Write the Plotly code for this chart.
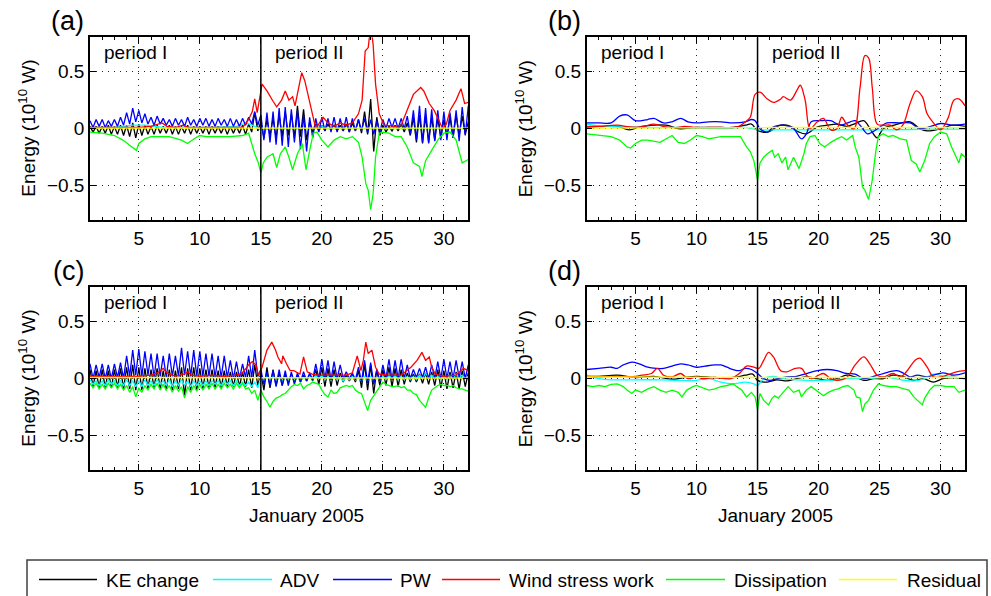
import numpy as np
import plotly.graph_objects as go

# ---------------------------------------------------------------- data
SERIES = ["KE change", "ADV", "PW", "Wind stress work", "Dissipation", "Residual"]
COLORS = ["#000000", "#00ffff", "#0000ff", "#ff0000", "#00ff00", "#ffff00"]
DAY_RANGE = [1, 32]
Y_RANGE = [-0.8, 0.8]
PERIOD_SPLIT = 15
X_TICKS = [5, 10, 15, 20, 25, 30]
Y_TICKS = [-0.5, 0, 0.5]
MINOR_X_TICKS = list(range(1, 33))
STEP = 0.25  # quarter-day sampling for the tidally oscillating series

# ---- panel (a): quarter-day samples, one row per day (days 1..31, then day 32)
a_pw = [0.07, 0.01, 0.08, 0.02, 0.08, 0.01, 0.07, 0.02, 0.08, 0.02, 0.10, 0.03,
        0.14, 0.04, 0.18, 0.06, 0.16, 0.05, 0.13, 0.04, 0.10, 0.03, 0.11, 0.04,
        0.09, 0.03, 0.08, 0.02, 0.09, 0.03, 0.08, 0.02, 0.10, 0.03, 0.08, 0.02,
        0.09, 0.03, 0.09, 0.02, 0.08, 0.02, 0.09, 0.03, 0.08, 0.02, 0.09, 0.02,
        0.08, 0.02, 0.09, 0.03, 0.10, 0.04, 0.15, 0.03, 0.12, -0.10, 0.14, -0.12,
        0.15, -0.14, 0.18, -0.15, 0.19, -0.16, 0.17, -0.12, 0.16, -0.18, 0.12, -0.20,
        0.10, -0.08, 0.09, -0.03, 0.10, -0.02, 0.09, -0.03, 0.10, -0.03, 0.09, -0.02,
        0.10, -0.03, 0.09, -0.02, 0.08, -0.02, 0.09, -0.04, 0.08, -0.05, 0.07, -0.03,
        0.08, 0.00, 0.09, 0.01, 0.09, 0.00, 0.09, 0.00, 0.11, -0.05, 0.16, -0.10,
        0.20, -0.12, 0.18, -0.13, 0.17, -0.11, 0.16, -0.10, 0.15, -0.10, 0.14, -0.08,
        0.16, -0.11, 0.19, -0.06, 0.20]
a_ke = [0.02, -0.03, 0.02, -0.04, 0.02, -0.04, 0.03, -0.05, 0.02, -0.05, 0.03, -0.06,
        0.03, -0.07, 0.05, -0.08, 0.04, -0.06, 0.03, -0.05, 0.02, -0.05, 0.03, -0.04,
        0.02, -0.04, 0.03, -0.05, 0.02, -0.05, 0.02, -0.04, 0.03, -0.05, 0.02, -0.04,
        0.02, -0.04, 0.02, -0.05, 0.02, -0.04, 0.02, -0.04, 0.02, -0.05, 0.02, -0.04,
        0.02, -0.04, 0.03, -0.05, 0.04, -0.03, 0.14, -0.02, 0.06, -0.08, 0.08, -0.06,
        0.09, -0.08, 0.12, -0.07, 0.15, -0.06, 0.13, -0.08, 0.20, -0.07, 0.17, -0.10,
        0.06, -0.03, 0.04, -0.02, 0.03, -0.02, 0.04, -0.01, 0.03, -0.02, 0.03, -0.02,
        0.04, -0.03, 0.05, -0.02, 0.08, -0.04, 0.15, -0.05, 0.26, -0.20, 0.10, -0.06,
        0.03, -0.03, 0.02, -0.02, 0.03, -0.02, 0.04, -0.03, 0.05, -0.06, 0.10, -0.12,
        0.12, -0.13, 0.11, -0.12, 0.10, -0.10, 0.09, -0.08, 0.08, -0.07, 0.10, -0.08,
        0.12, -0.06, 0.11, -0.05, 0.06]
a_adv_t = [1, 3, 4.5, 5.5, 7, 9, 11, 13, 13.8, 14.5, 15, 17, 19, 19.8, 20.5, 23, 25, 28, 30, 32]
a_adv = [0.01, 0.01, 0.03, 0.03, 0.01, 0.01, 0.01, 0.02, 0.05, 0.02,
         -0.01, 0.0, 0.0, 0.03, 0.0, 0.0, 0.0, 0.0, 0.0, 0.0]
a_wsw_t = [1, 3, 5, 6, 6.5, 6.9, 7.3, 8, 8.6, 9.1, 10, 12, 13.5, 14, 14.3, 14.5, 14.7,
           15.1, 15.5, 16, 16.3, 16.7, 17, 17.3, 17.6, 17.8, 18.35, 18.6, 18.9, 19.2,
           19.5, 20.1, 20.5, 21, 21.5, 22, 22.5, 23, 23.3, 23.55, 23.8, 24.0, 24.2,
           24.4, 24.7, 25.1, 26, 26.5, 27, 27.5, 28.1, 28.35, 28.8, 29.2, 29.6, 29.9,
           30.2, 30.5, 31, 31.4, 31.7, 32]
a_wsw = [0.01, 0.01, 0.01, 0.02, 0.04, 0.05, 0.02, 0.01, 0.03, 0.01, 0.01, 0.01, 0.01,
         0.08, 0.15, 0.26, 0.14, 0.39, 0.33, 0.24, 0.19, 0.25, 0.33, 0.25, 0.28, 0.2,
         0.49, 0.42, 0.28, 0.13, 0.0, 0.1, 0.05, 0.02, 0.05, 0.03, 0.05, 0.13, 0.25,
         0.68, 0.71, 0.9, 0.74, 0.39, 0.13, 0.03, 0.02, 0.03, 0.16, 0.3, 0.36, 0.33,
         0.22, 0.16, 0.07, 0.0, 0.04, 0.16, 0.25, 0.35, 0.22, 0.23]
a_dis_t = [1, 2, 3, 3.7, 4.3, 4.8, 5.0, 5.5, 6, 7, 7.5, 8.5, 9, 9.5, 10, 10.5, 11.5,
           12.5, 13.5, 14, 14.5, 14.8, 15.0, 15.2, 15.5, 16, 16.3, 16.6, 17, 17.3, 17.6,
           18, 18.4, 18.7, 19, 19.3, 19.6, 20, 20.5, 21, 21.5, 22, 22.5, 23, 23.3, 23.6,
           23.8, 24.0, 24.2, 24.4, 24.7, 25, 25.5, 26, 26.5, 27, 27.5, 28, 28.2, 28.5,
           29, 29.5, 30, 30.5, 31, 31.5, 32]
a_dis = [-0.03, -0.04, -0.06, -0.1, -0.15, -0.19, -0.13, -0.09, -0.07, -0.07, -0.07,
         -0.1, -0.13, -0.09, -0.06, -0.07, -0.07, -0.07, -0.06, -0.04, -0.22, -0.3,
         -0.39, -0.3, -0.25, -0.22, -0.34, -0.22, -0.16, -0.25, -0.36, -0.22, -0.13,
         -0.36, -0.19, -0.04, -0.03, -0.1, -0.16, -0.1, -0.07, -0.09, -0.07, -0.12,
         -0.25, -0.48, -0.54, -0.71, -0.57, -0.25, -0.04, -0.03, -0.04, -0.07, -0.07,
         -0.16, -0.3, -0.33, -0.42, -0.28, -0.19, -0.1, -0.04, -0.03, -0.1, -0.3, -0.27]
a_res_t = [1, 8, 15, 22, 32]
a_res = [0.005, 0.005, 0.0, 0.005, 0.005]

# ---- panel (b)
b_ke_t = [1, 2, 3.5, 4.5, 5.5, 7.5, 8.5, 10, 12, 13, 14, 14.5, 15, 15.8, 16.9, 17.7,
          18.4, 19, 19.9, 20.7, 21.5, 22.3, 23, 23.7, 24.3, 24.8, 25.3, 26.2, 27.5,
          28.3, 28.9, 30, 31, 32]
b_ke = [0.01, 0.02, 0.02, -0.01, 0.02, 0.03, 0.0, 0.01, 0.01, 0.01, 0.03, 0.04,
        -0.015, -0.03, 0.03, 0.02, -0.03, -0.045, 0.015, 0.03, 0.04, 0.02, 0.045, 0.07,
        -0.015, -0.08, 0.0, 0.03, 0.06, 0.0, -0.02, 0.0, 0.03, 0.02]
b_adv_t = [1, 2, 4, 6, 9, 12, 14, 15, 17, 20, 23, 26, 29, 32]
b_adv = [0.04, 0.025, 0.015, 0.01, 0.01, 0.0, 0.01, -0.01, -0.01, -0.01, -0.01,
         -0.01, -0.005, -0.005]
b_pw_t = [1, 2, 3, 3.7, 4.3, 5, 5.5, 6, 6.5, 7.3, 8, 8.7, 9.3, 10, 11, 12, 13, 14,
          14.5, 14.8, 15.2, 15.8, 16.3, 17.1, 17.95, 18.6, 19, 19.4, 20.1, 21, 21.8,
          22.6, 23, 23.4, 24, 24.4, 25.05, 25.6, 26.7, 27.5, 28.3, 29.2, 30, 31.1, 32]
b_pw = [0.05, 0.05, 0.05, 0.11, 0.12, 0.07, 0.07, 0.08, 0.09, 0.05, 0.06, 0.09, 0.06,
        0.05, 0.06, 0.06, 0.05, 0.06, 0.08, 0.07, 0.0, -0.03, 0.015, 0.03, 0.0, -0.09,
        -0.045, 0.06, 0.07, 0.07, 0.03, 0.06, 0.07, 0.03, -0.045, -0.03, 0.015, 0.05,
        0.05, 0.05, 0.0, 0.02, 0.045, 0.03, 0.04]
b_wsw_t = [1, 2, 3.5, 4.5, 5.5, 6.5, 7.5, 8.5, 9, 10, 11, 12, 13, 13.5, 14, 14.4, 14.8,
           15.2, 15.8, 16.3, 16.9, 17.1, 17.7, 18.2, 18.5, 18.9, 19.3, 19.9, 20.4, 21,
           21.5, 21.9, 22.3, 22.9, 23.4, 23.8, 24.1, 24.4, 24.8, 25.3, 25.9, 26.4, 26.9,
           27.5, 28, 28.5, 28.9, 29.5, 30, 30.6, 31.1, 31.5, 32]
b_wsw = [0.02, 0.02, 0.03, 0.015, 0.015, 0.04, 0.015, 0.01, 0.02, 0.01, 0.01, 0.01,
         0.01, 0.02, 0.06, 0.1, 0.3, 0.32, 0.26, 0.23, 0.26, 0.28, 0.25, 0.33, 0.38,
         0.25, 0.0, 0.06, 0.09, -0.01, 0.0, 0.1, 0.04, 0.0, 0.36, 0.64, 0.62, 0.36,
         0.04, 0.03, 0.03, -0.01, 0.03, 0.22, 0.33, 0.28, 0.13, 0.04, -0.01, 0.09, 0.25,
         0.26, 0.2]
b_dis_t = [1, 2, 3, 3.7, 4.3, 4.6, 5, 5.5, 6, 7, 7.5, 8, 8.5, 9, 9.5, 10, 10.5, 11, 12,
           13, 13.6, 14.1, 14.4, 14.7, 15, 15.2, 15.5, 15.8, 16.2, 16.4, 16.7, 17, 17.3,
           17.5, 17.95, 18.4, 18.8, 19, 19.3, 19.7, 20.1, 20.5, 21, 21.5, 21.9, 22.3,
           22.8, 23, 23.3, 23.6, 23.8, 24.1, 24.4, 24.7, 24.9, 25.3, 25.7, 26.1, 26.7,
           27.2, 27.6, 28, 28.3, 28.7, 29.1, 29.5, 30, 30.5, 30.9, 31.5, 31.7, 32]
b_dis = [-0.045, -0.06, -0.07, -0.1, -0.16, -0.17, -0.13, -0.1, -0.1, -0.12, -0.09,
         -0.06, -0.12, -0.13, -0.1, -0.06, -0.07, -0.09, -0.07, -0.07, -0.07, -0.16,
         -0.2, -0.28, -0.45, -0.3, -0.25, -0.22, -0.19, -0.25, -0.22, -0.3, -0.25, -0.36,
         -0.25, -0.35, -0.22, -0.13, -0.07, -0.06, -0.13, -0.16, -0.12, -0.09, -0.07,
         -0.1, -0.06, -0.16, -0.25, -0.51, -0.54, -0.62, -0.45, -0.19, -0.07, -0.045,
         -0.07, -0.06, -0.09, -0.1, -0.28, -0.31, -0.38, -0.28, -0.13, -0.07, -0.03,
         -0.045, -0.16, -0.3, -0.22, -0.25]
b_res_t = [1, 16, 32]
b_res = [0.004, 0.01, 0.01]

# ---- panel (c): quarter-day samples, one row per day
c_ke = [0.08, -0.07, 0.07, -0.08, 0.08, -0.08, 0.07, -0.08, 0.08, -0.08, 0.09, -0.09,
        0.10, -0.09, 0.12, -0.10, 0.10, -0.10, 0.09, -0.09, 0.08, -0.08, 0.09, -0.09,
        0.07, -0.10, 0.08, -0.10, 0.07, -0.09, 0.10, -0.15, 0.09, -0.10, 0.10, -0.10,
        0.09, -0.09, 0.08, -0.09, 0.08, -0.08, 0.07, -0.08, 0.07, -0.07, 0.06, -0.07,
        0.06, -0.07, 0.06, -0.07, 0.08, -0.08, 0.12, -0.06, 0.05, -0.10, 0.10, -0.08,
        0.08, -0.06, 0.05, -0.06, 0.04, -0.04, 0.04, -0.03, 0.03, -0.03, 0.03, -0.02,
        0.03, -0.02, 0.08, -0.05, 0.10, -0.07, 0.09, -0.07, 0.08, -0.06, 0.05, -0.03,
        0.03, -0.02, 0.03, -0.03, 0.07, -0.08, 0.13, -0.10, 0.12, -0.13, 0.08, -0.06,
        0.08, -0.06, 0.10, -0.07, 0.09, -0.07, 0.08, -0.05, 0.05, -0.03, 0.04, -0.03,
        0.04, -0.04, 0.05, -0.05, 0.06, -0.06, 0.08, -0.08, 0.07, -0.09, 0.06, -0.08,
        0.06, -0.09, 0.07, -0.07, 0.05]
c_adv = [-0.01, -0.05, -0.02, -0.06, -0.02, -0.06, -0.01, -0.05, -0.02, -0.06, -0.02, -0.06,
         -0.01, -0.06, -0.02, -0.07, -0.02, -0.07, -0.01, -0.06, -0.02, -0.06, -0.01, -0.05,
         -0.02, -0.06, -0.01, -0.07, -0.02, -0.06, -0.01, -0.06, -0.02, -0.07, -0.02, -0.06,
         -0.02, -0.06, -0.02, -0.06, -0.02, -0.05, -0.02, -0.06, -0.02, -0.05, -0.02, -0.06,
         -0.02, -0.06, -0.03, -0.06, -0.03, -0.07, -0.03, -0.08, 0.01, -0.02, 0.02, -0.01,
         0.02, -0.01, 0.01, -0.02, 0.01, -0.01, 0.02, -0.01, 0.01, -0.02, 0.01, -0.01,
         0.02, -0.01, 0.03, 0.00, 0.03, -0.01, 0.02, -0.01, 0.02, -0.01, 0.01, -0.02,
         0.01, -0.01, 0.02, -0.01, 0.01, -0.02, 0.02, -0.02, 0.02, -0.02, 0.01, -0.01,
         0.02, -0.01, 0.03, 0.00, 0.03, -0.01, 0.02, -0.01, 0.02, -0.01, 0.02, -0.01,
         0.03, 0.00, 0.05, 0.01, 0.03, 0.00, 0.02, -0.01, 0.02, -0.01, 0.03, 0.00,
         0.04, 0.01, 0.03, 0.00, 0.02]
c_pw = [0.13, 0.00, 0.12, 0.01, 0.13, 0.00, 0.12, 0.00, 0.13, 0.01, 0.14, 0.00,
        0.20, 0.02, 0.25, 0.03, 0.26, 0.02, 0.24, 0.03, 0.22, 0.01, 0.22, 0.02,
        0.20, 0.01, 0.22, 0.02, 0.20, 0.02, 0.27, 0.03, 0.24, 0.02, 0.25, 0.02,
        0.24, 0.02, 0.22, 0.02, 0.22, 0.01, 0.20, 0.01, 0.20, 0.01, 0.16, 0.00,
        0.15, 0.00, 0.13, 0.01, 0.20, 0.01, 0.25, 0.02, 0.08, -0.05, 0.06, -0.06,
        0.07, -0.07, 0.08, -0.06, 0.07, -0.06, 0.06, -0.05, 0.05, -0.03, 0.06, -0.02,
        0.05, -0.01, 0.13, 0.00, 0.17, 0.00, 0.16, -0.01, 0.15, 0.00, 0.12, 0.00,
        0.06, 0.00, 0.05, -0.01, 0.10, -0.03, 0.16, -0.04, 0.14, -0.05, 0.08, -0.02,
        0.12, 0.00, 0.17, -0.01, 0.16, 0.00, 0.17, 0.00, 0.12, 0.00, 0.08, 0.01,
        0.09, 0.01, 0.10, 0.00, 0.12, 0.00, 0.15, 0.00, 0.17, 0.00, 0.15, 0.00,
        0.16, 0.01, 0.15, 0.00, 0.12]
c_dis = [-0.04, -0.08, -0.04, -0.09, -0.05, -0.09, -0.04, -0.08, -0.04, -0.09, -0.05, -0.10,
         -0.06, -0.12, -0.07, -0.16, -0.08, -0.12, -0.06, -0.10, -0.05, -0.09, -0.04, -0.10,
         -0.05, -0.10, -0.06, -0.12, -0.06, -0.11, -0.07, -0.17, -0.07, -0.12, -0.06, -0.11,
         -0.05, -0.10, -0.05, -0.09, -0.04, -0.09, -0.05, -0.09, -0.04, -0.08, -0.05, -0.09,
         -0.04, -0.08, -0.04, -0.09, -0.08, -0.13, -0.10, -0.19, -0.10, -0.16, -0.20, -0.25,
         -0.20, -0.17, -0.16, -0.14, -0.13, -0.10, -0.07, -0.05, -0.06, -0.04, -0.09, -0.06,
         -0.05, -0.03, -0.04, -0.05, -0.10, -0.14, -0.16, -0.10, -0.13, -0.12, -0.08, -0.07,
         -0.06, -0.07, -0.06, -0.10, -0.12, -0.13, -0.20, -0.28, -0.19, -0.15, -0.10, -0.06,
         -0.03, -0.05, -0.06, -0.07, -0.07, -0.06, -0.08, -0.07, -0.10, -0.10, -0.13, -0.14,
         -0.19, -0.22, -0.25, -0.17, -0.10, -0.08, -0.06, -0.05, -0.06, -0.06, -0.07, -0.06,
         -0.08, -0.09, -0.09, -0.10, -0.11]
c_wsw_t = [1, 3, 5, 6, 6.5, 7, 7.3, 8, 8.7, 9, 9.3, 10, 11, 12, 13, 13.5, 14, 14.3, 14.6,
           14.8, 15.1, 15.5, 15.9, 16.2, 16.4, 16.7, 16.8, 17.1, 17.4, 17.7, 18.2, 18.5,
           18.8, 19.2, 19.6, 21, 22, 22.5, 22.9, 23.2, 23.4, 23.6, 23.8, 24.1, 24.4,
           24.7, 25.5, 26.5, 27.3, 27.8, 28.2, 28.5, 28.8, 29, 29.3, 30, 31, 31.6, 32]
c_wsw = [0.02, 0.02, 0.02, 0.03, 0.05, 0.09, 0.05, 0.02, 0.04, 0.06, 0.03, 0.02, 0.03,
         0.02, 0.03, 0.05, 0.12, 0.15, 0.12, 0.03, 0.1, 0.25, 0.32, 0.25, 0.19, 0.13,
         0.2, 0.13, 0.07, 0.07, 0.04, 0.19, 0.06, 0.04, 0.03, 0.03, 0.03, 0.05, 0.2,
         0.07, 0.16, 0.32, 0.22, 0.25, 0.1, 0.04, 0.03, 0.03, 0.1, 0.16, 0.23, 0.16,
         0.19, 0.1, 0.04, 0.02, 0.03, 0.09, 0.07]
c_res_t = [1, 15, 32]
c_res = [0.01, 0.005, 0.005]

# ---- panel (d)
d_ke_t = [1, 2, 3.5, 5, 6.5, 8, 9, 10, 11.5, 13, 14, 14.6, 15, 15.8, 16.6, 17.4, 18.2,
          19, 19.9, 20.7, 21.5, 22.3, 23, 23.7, 24.5, 25.3, 26.1, 27, 27.8, 28.6, 29.4,
          30.2, 31.1, 32]
d_ke = [0.02, 0.02, 0.03, 0.01, 0.02, -0.005, 0.01, 0.02, 0.01, 0.01, 0.03, 0.04,
        -0.015, -0.03, -0.01, -0.02, 0.0, 0.015, 0.0, -0.015, 0.0, 0.03, 0.015, -0.015,
        0.0, 0.0, 0.03, 0.015, -0.015, 0.0, -0.03, 0.0, 0.01, 0.0]
d_adv_t = [1, 2, 3, 5, 7, 8.5, 10, 11, 12, 13, 14, 14.7, 15, 15.5, 16.3, 17.1, 18.2, 19,
           20, 21, 22.4, 23.5, 24.6, 25.4, 26.3, 27.1, 27.9, 28.7, 29.4, 30.5, 32]
d_adv = [0.03, 0.0, -0.01, -0.01, -0.01, -0.015, -0.015, 0.0, -0.03, -0.045, -0.03,
         -0.045, -0.06, 0.0, 0.02, 0.0, -0.01, -0.015, -0.015, -0.015, 0.0, 0.0, 0.005,
         0.015, 0.0, -0.015, -0.02, 0.0, 0.04, 0.015, 0.01]
d_pw_t = [1, 2, 3, 3.5, 4, 4.7, 5.3, 6, 6.7, 7.3, 8, 8.7, 9.3, 10, 10.7, 11.5, 12, 12.5,
          13, 13.5, 14, 14.5, 15, 15.5, 16, 16.6, 17.4, 18.2, 19, 19.9, 20.7, 21.5,
          22.3, 23, 23.7, 24.5, 25.3, 26.4, 27, 27.5, 28.1, 28.9, 29.4, 30.2, 31.1, 32]
d_pw = [0.08, 0.09, 0.1, 0.09, 0.12, 0.145, 0.13, 0.1, 0.09, 0.09, 0.11, 0.13, 0.12,
        0.1, 0.11, 0.12, 0.12, 0.1, 0.08, 0.07, 0.09, 0.08, 0.045, 0.0, -0.015, 0.0,
        0.015, 0.02, 0.045, 0.07, 0.08, 0.07, 0.045, 0.04, 0.0, 0.02, 0.045, 0.07,
        0.045, 0.015, 0.03, 0.015, 0.03, 0.05, 0.03, 0.05]
d_wsw_t = [1, 2, 3, 5, 5.5, 6.3, 6.8, 7.3, 8, 8.7, 9.3, 10, 10.5, 11.5, 12.8, 13.5, 14.1,
           14.7, 15.1, 15.5, 15.9, 16.3, 16.9, 17.4, 18.1, 18.6, 19, 19.4, 20, 20.4, 21,
           21.5, 22.3, 23, 23.7, 24.2, 24.8, 25.3, 26.1, 26.7, 27.2, 27.9, 28.3, 28.9,
           29.4, 30, 30.5, 31.3, 32]
d_wsw = [0.02, 0.015, 0.02, 0.02, 0.03, 0.045, 0.09, 0.03, 0.015, 0.045, 0.0, 0.015,
         0.0, 0.01, 0.0, 0.045, 0.11, 0.1, 0.09, 0.16, 0.23, 0.19, 0.07, 0.06, 0.09,
         0.09, 0.03, 0.0, 0.03, 0.045, 0.0, -0.015, 0.01, 0.12, 0.19, 0.13, 0.03, 0.015,
         0.045, 0.015, 0.06, 0.16, 0.18, 0.1, 0.015, 0.015, 0.03, 0.06, 0.07]
d_dis_t = [1, 1.5, 2, 2.5, 3, 3.5, 4, 4.3, 4.7, 5, 5.5, 6, 6.5, 7, 7.5, 8, 8.5, 8.8, 9.2,
           9.7, 10, 10.5, 11, 11.5, 12, 12.5, 13, 13.3, 13.7, 14.1, 14.5, 14.8, 15, 15.2,
           15.5, 15.9, 16.2, 16.4, 16.7, 17.1, 17.5, 17.95, 18.4, 18.6, 19, 19.4, 20,
           20.4, 20.8, 21.2, 21.6, 22, 22.4, 22.9, 23.1, 23.4, 23.6, 23.8, 24.1, 24.5,
           24.9, 25.3, 25.9, 26.4, 27, 27.4, 27.8, 28.2, 28.5, 28.7, 29.1, 29.5, 30,
           30.5, 31.1, 31.5, 32]
d_dis = [-0.06, -0.07, -0.06, -0.07, -0.05, -0.045, -0.07, -0.1, -0.13, -0.1, -0.12,
         -0.09, -0.07, -0.1, -0.12, -0.1, -0.12, -0.16, -0.1, -0.07, -0.06, -0.08, -0.1,
         -0.09, -0.07, -0.06, -0.045, -0.07, -0.1, -0.16, -0.12, -0.16, -0.27, -0.13,
         -0.19, -0.23, -0.17, -0.15, -0.17, -0.12, -0.07, -0.12, -0.1, -0.16, -0.1,
         -0.07, -0.12, -0.15, -0.12, -0.1, -0.09, -0.07, -0.06, -0.1, -0.16, -0.17,
         -0.29, -0.22, -0.19, -0.1, -0.045, -0.06, -0.07, -0.07, -0.09, -0.1, -0.16,
         -0.2, -0.23, -0.17, -0.1, -0.06, -0.06, -0.07, -0.07, -0.12, -0.1]
d_res_t = [1, 16, 32]
d_res = [0.015, 0.01, 0.01]


def quarter_days(vals):
    return list(DAY_RANGE[0] + STEP * np.arange(len(vals)))


PANELS = {
    "a": [(quarter_days(a_ke), a_ke), (a_adv_t, a_adv), (quarter_days(a_pw), a_pw),
          (a_wsw_t, a_wsw), (a_dis_t, a_dis), (a_res_t, a_res)],
    "b": [(b_ke_t, b_ke), (b_adv_t, b_adv), (b_pw_t, b_pw),
          (b_wsw_t, b_wsw), (b_dis_t, b_dis), (b_res_t, b_res)],
    "c": [(quarter_days(c_ke), c_ke), (quarter_days(c_adv), c_adv), (quarter_days(c_pw), c_pw),
          (c_wsw_t, c_wsw), (quarter_days(c_dis), c_dis), (c_res_t, c_res)],
    "d": [(d_ke_t, d_ke), (d_adv_t, d_adv), (d_pw_t, d_pw),
          (d_wsw_t, d_wsw), (d_dis_t, d_dis), (d_res_t, d_res)],
}
SMOOTH_PANELS = {"b", "d"}

# ---------------------------------------------------------------- layout helpers
W, H = 991, 596
FONT = "Liberation Sans, Arial, Helvetica, sans-serif"


def px(x):
    return x / W


def py(y):
    return 1 - y / H


# plot-area boxes in pixels: left, right, top, bottom
BOXES = {"a": (90, 468.3, 37.3, 220), "b": (586.7, 965, 37.3, 220),
         "c": (90, 468.3, 287.3, 470), "d": (586.7, 965, 287.3, 470)}

fig = go.Figure()
layout = dict(width=W, height=H, autosize=False, margin=dict(l=0, r=0, t=0, b=0),
              paper_bgcolor="white", plot_bgcolor="white", showlegend=False,
              font=dict(family=FONT, size=19, color="black"))
annotations, shapes = [], []

for k, (key, box) in enumerate(BOXES.items(), start=1):
    sfx = "" if k == 1 else str(k)
    xname, yname = "x" + sfx, "y" + sfx
    x0, x1, y0, y1 = box
    layout["xaxis" + sfx] = dict(
        domain=[px(x0), px(x1)], range=DAY_RANGE, anchor=yname,
        tickmode="array", tickvals=X_TICKS, ticks="inside", ticklen=6, tickwidth=1,
        tickcolor="black", showline=True, linecolor="black", linewidth=1.5,
        mirror="ticks", showgrid=True, gridcolor="#222", griddash="1px,5px",
        gridwidth=1, zeroline=False, tickfont=dict(family=FONT, size=19, color="black"),
        minor=dict(tickmode="array", tickvals=MINOR_X_TICKS, ticks="inside", ticklen=3,
                   tickcolor="black", showgrid=False))
    layout["yaxis" + sfx] = dict(
        domain=[py(y1), py(y0)], range=Y_RANGE, anchor=xname,
        tickmode="array", tickvals=Y_TICKS, ticks="inside", ticklen=6, tickwidth=1,
        tickcolor="black", showline=True, linecolor="black", linewidth=1.5,
        mirror="ticks", showgrid=True, gridcolor="#222", griddash="1px,5px",
        gridwidth=1, zeroline=False, tickfont=dict(family=FONT, size=19, color="black"))

    for name, color, (t, v) in zip(SERIES, COLORS, PANELS[key]):
        shape = "spline" if (key in SMOOTH_PANELS and name != "Dissipation") else "linear"
        fig.add_trace(go.Scatter(x=t, y=v, name=name, mode="lines", xaxis=xname,
                                 yaxis=yname, line=dict(color=color, width=1.3, shape=shape),
                                 cliponaxis=True))

    # period boundary
    shapes.append(dict(type="line", xref=xname, yref=yname + " domain", x0=PERIOD_SPLIT,
                       x1=PERIOD_SPLIT, y0=0, y1=1, line=dict(color="black", width=1.5)))
    # period labels
    for lbl, xd in (("period I", DAY_RANGE[0] + 1), ("period II", PERIOD_SPLIT + 1)):
        annotations.append(dict(text=lbl, x=xd, y=0.67, xref=xname, yref=yname,
                                xanchor="left", yanchor="middle", showarrow=False,
                                font=dict(size=19)))
    # panel letter
    annotations.append(dict(text="(%s)" % key, x=px(x0 - 4), y=py(y0 + 1), xref="paper",
                            yref="paper", xanchor="right", yanchor="bottom",
                            showarrow=False, font=dict(size=27)))
    # y title
    annotations.append(dict(text="Energy (10<sup>10</sup> W)", x=px(x0 - 63),
                            y=py((y0 + y1) / 2), xref="paper", yref="paper",
                            xanchor="center", yanchor="middle", textangle=-90,
                            showarrow=False, font=dict(size=19)))

# x titles
for xc in (306, 775):
    annotations.append(dict(text="January 2005", x=px(xc), y=py(515), xref="paper",
                            yref="paper", xanchor="center", yanchor="middle",
                            showarrow=False, font=dict(size=19)))

# legend drawn as a framed row
shapes.append(dict(type="rect", xref="paper", yref="paper", x0=px(27), x1=px(987),
                   y0=py(600), y1=py(560), line=dict(color="#404040", width=1.5),
                   fillcolor="white", layer="below"))
LEG_ITEMS = [(39, 97, 104), (213, 272, 278), (333, 392, 398), (442, 500, 507),
             (666, 725, 732), (839, 897, 905)]
for (lx0, lx1, tx), name, color in zip(LEG_ITEMS, SERIES, COLORS):
    shapes.append(dict(type="line", xref="paper", yref="paper", x0=px(lx0), x1=px(lx1),
                       y0=py(579.5), y1=py(579.5), line=dict(color=color, width=1.3)))
    annotations.append(dict(text=name, x=px(tx), y=py(580), xref="paper", yref="paper",
                            xanchor="left", yanchor="middle", showarrow=False,
                            font=dict(size=19)))

layout["annotations"] = annotations
layout["shapes"] = shapes
fig.update_layout(**layout)
fig.write_html("out.html", config={"displayModeBar": False},
               post_script="document.body.style.margin='0px';"
                           "document.body.style.padding='0px';")
